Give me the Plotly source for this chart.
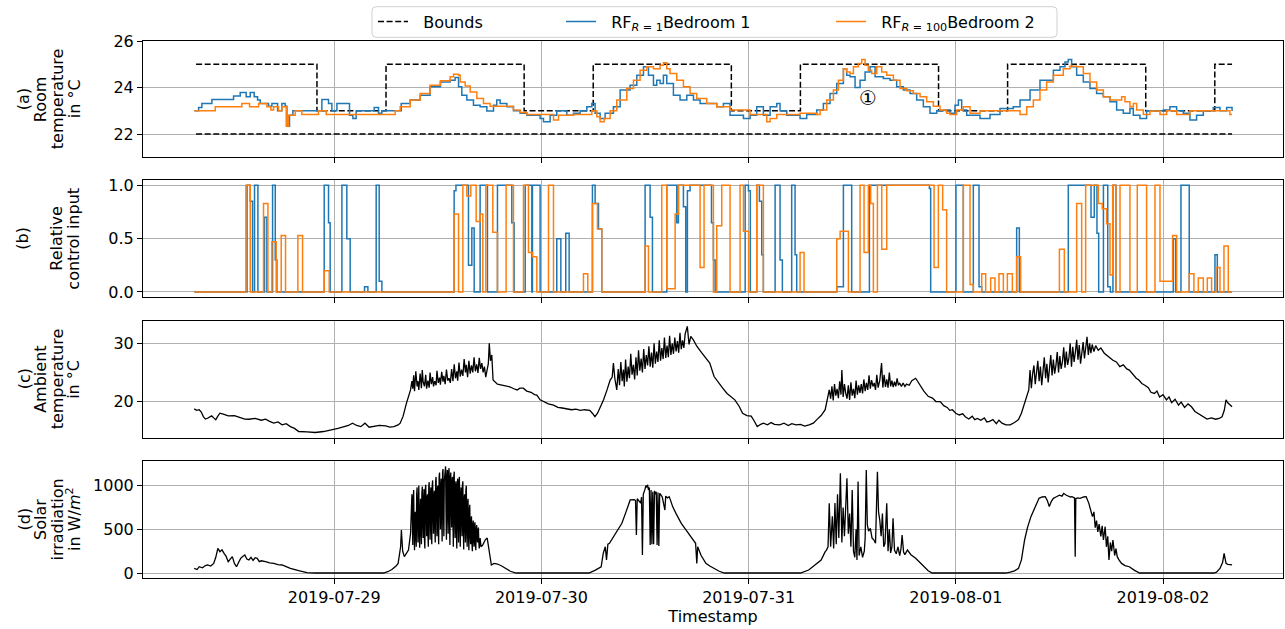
import numpy as np
import pandas as pd
import plotly.graph_objects as go

# ---------------- data (hours since 2019-07-28 00:00, value) ----------------
BOUND_UPPER = [(8, 25), (22, 23), (30, 25), (46, 23), (54, 25), (70, 23), (78, 25),
               (94, 23), (102, 25), (118, 23), (126, 25), (128, 25)]
BOUND_LOWER = [(8, 22), (128, 22)]

ROOM1 = [(7.8, 23.0), (8.29, 23.14), (8.67, 23.31), (9.83, 23.49), (12.34, 23.64), (13.11, 23.79),
         (13.8, 23.6), (14.27, 23.79), (14.73, 23.6), (15.12, 23.46), (15.43, 23.31), (16.39, 23.2),
         (16.78, 23.31), (17.44, 23.0), (17.94, 23.31), (18.32, 23.2), (18.52, 22.34), (18.82, 22.81),
         (19.21, 23.0), (22.57, 23.49), (23.34, 23.31), (23.73, 23.0), (24.31, 23.31), (25.77, 22.81),
         (26.16, 22.67), (26.54, 23.0), (28.63, 23.14), (29.13, 22.89), (29.52, 23.0), (31.76, 23.31),
         (32.8, 23.46), (33.96, 23.67), (35.1, 24.03), (36.3, 24.24), (37.43, 24.31), (38.0, 24.43),
         (38.4, 24.03), (38.78, 23.67), (39.36, 23.46), (40.13, 23.24), (40.9, 23.17), (41.68, 22.99),
         (42.45, 23.24), (42.83, 23.46), (43.22, 23.31), (44.0, 23.17), (44.76, 23.0), (45.54, 22.89),
         (46.31, 22.81), (47.85, 22.67), (48.24, 22.53), (49.01, 22.81), (49.78, 23.0), (50.94, 22.81),
         (51.71, 22.89), (52.48, 23.0), (53.26, 23.17), (53.84, 23.31), (54.22, 22.89), (54.8, 22.67),
         (55.38, 22.89), (56.34, 23.17), (57.12, 23.89), (58.27, 24.1), (59.05, 24.53), (59.82, 24.89),
         (60.4, 24.53), (60.98, 24.1), (61.36, 24.31), (61.75, 24.17), (62.13, 24.53), (62.52, 24.17),
         (63.29, 23.67), (64.06, 23.46), (64.84, 23.67), (65.61, 23.46), (66.38, 23.31), (68.31, 23.17),
         (69.08, 23.31), (69.85, 22.81), (71.4, 22.67), (72.17, 22.81), (72.94, 23.17), (73.71, 22.81),
         (74.49, 23.17), (75.26, 23.31), (75.64, 23.0), (76.42, 22.81), (77.96, 22.67), (78.73, 22.84),
         (79.89, 23.03), (80.66, 23.31), (81.43, 23.74), (82.21, 24.17), (82.98, 24.81), (83.36, 24.53),
         (83.75, 24.46), (84.33, 24.0), (84.91, 24.31), (85.49, 24.67), (86.07, 24.89), (86.65, 24.46),
         (87.61, 24.39), (88.38, 24.31), (89.15, 24.03), (89.93, 23.89), (90.7, 23.74), (91.47, 23.46),
         (92.24, 23.17), (93.01, 22.89), (93.79, 23.0), (94.56, 23.03), (95.33, 22.89), (95.91, 23.24),
         (96.3, 23.46), (96.68, 23.03), (97.26, 22.81), (98.8, 22.67), (99.96, 22.84), (101.12, 23.1),
         (102.66, 23.17), (103.44, 23.46), (104.6, 23.89), (105.75, 24.31), (107.3, 24.74), (108.07, 24.89),
         (108.65, 25.1), (109.03, 25.2), (109.42, 24.89), (110.0, 24.53), (110.77, 24.24), (111.54, 23.96),
         (112.31, 23.74), (113.09, 23.6), (113.86, 23.39), (114.63, 23.03), (115.4, 22.89), (116.17, 23.1),
         (116.56, 22.81), (117.33, 22.67), (118.1, 23.0), (120.03, 23.03), (120.8, 23.17), (121.58, 23.0),
         (122.35, 22.89), (123.12, 22.6), (123.89, 22.81), (124.67, 23.0), (125.82, 23.14), (126.6, 23.0),
         (127.37, 23.14), (128.0, 22.99)]

ROOM2 = [(7.8, 23.0), (10.22, 23.17), (13.3, 23.31), (14.19, 23.17), (15.24, 23.31), (16.2, 23.17),
         (16.66, 23.03), (16.97, 23.17), (17.55, 23.0), (17.94, 23.17), (18.44, 22.34), (18.71, 22.81),
         (19.48, 23.0), (20.25, 22.84), (22.18, 23.0), (23.07, 22.84), (31.06, 23.0), (31.64, 23.17),
         (32.8, 23.46), (33.96, 23.74), (35.1, 24.1), (36.3, 24.29), (37.43, 24.46), (37.82, 24.57),
         (38.4, 24.53), (38.59, 24.24), (39.17, 24.06), (39.75, 23.81), (40.52, 23.53), (41.29, 23.31),
         (42.06, 23.2), (44.76, 23.03), (45.54, 22.93), (46.31, 22.84), (49.4, 22.6), (49.98, 22.81),
         (51.71, 22.84), (53.84, 23.0), (54.42, 22.74), (54.8, 22.53), (55.26, 22.67), (55.96, 23.0),
         (56.73, 23.46), (57.89, 23.96), (58.66, 24.31), (59.43, 24.74), (60.2, 24.89), (60.98, 24.81),
         (61.75, 24.96), (62.13, 25.06), (62.52, 24.81), (62.9, 24.6), (63.68, 24.31), (64.45, 24.03),
         (65.22, 23.74), (65.99, 23.53), (67.15, 23.31), (68.31, 23.17), (69.85, 23.03), (72.17, 22.84),
         (74.1, 22.53), (74.49, 22.67), (75.26, 22.84), (77.96, 22.89), (79.89, 22.84), (80.28, 23.03),
         (81.05, 23.46), (81.82, 23.89), (82.4, 24.31), (82.98, 24.81), (83.36, 24.67), (83.75, 24.6),
         (84.14, 24.89), (84.72, 25.03), (85.1, 25.2), (85.49, 24.96), (85.87, 24.74), (86.26, 24.6),
         (86.84, 24.89), (87.42, 24.67), (88.0, 24.53), (88.77, 24.31), (89.54, 23.96), (90.31, 23.86),
         (91.08, 23.74), (91.86, 23.6), (92.63, 23.39), (93.4, 23.2), (94.17, 23.03), (94.94, 22.89),
         (95.33, 22.84), (96.1, 23.03), (96.87, 23.17), (97.65, 22.89), (98.8, 23.0), (103.44, 22.84),
         (104.21, 23.17), (104.98, 23.46), (105.75, 23.89), (106.52, 24.24), (107.3, 24.53), (108.45, 24.81),
         (109.23, 24.91), (110.0, 24.89), (110.77, 24.6), (111.54, 24.24), (112.31, 23.89), (113.09, 23.6),
         (113.86, 23.46), (115.21, 23.6), (115.6, 23.39), (116.17, 23.17), (116.56, 23.31), (116.95, 23.03),
         (117.72, 22.84), (118.49, 22.99), (119.65, 22.84), (120.42, 23.0), (121.58, 22.84), (123.12, 23.0),
         (127.75, 22.84), (128.0, 22.84)]

CTRL1 = [(7.8, 0), (13.9, 1.0), (14.27, 0.85), (14.54, 0), (14.77, 1.0), (15.16, 0), (15.93, 0.7),
         (16.2, 0), (16.86, 1.0), (17.17, 0.3), (17.36, 0), (22.84, 1.0), (23.34, 0.65), (23.53, 0),
         (24.89, 1.0), (25.46, 0.5), (25.85, 0), (27.51, 0.05), (27.9, 0), (28.86, 1.0), (29.21, 0.1),
         (29.52, 0), (37.89, 0.95), (38.1, 1.0), (39.55, 0.25), (39.94, 0.6), (40.21, 0), (40.9, 1.0),
         (41.75, 0), (42.91, 1.0), (44.57, 0.65), (44.84, 0), (46.12, 1.0), (46.89, 0), (46.96, 1.0),
         (47.85, 0), (49.78, 0.5), (50.25, 0), (50.82, 0.55), (51.21, 0), (53.91, 1.0), (54.22, 0.83),
         (54.61, 0.59), (54.99, 0), (60.01, 1.0), (60.59, 0.7), (60.86, 0), (62.52, 1.0), (63.68, 0.65),
         (63.87, 1.0), (64.45, 0.8), (64.72, 0), (64.91, 0.95), (65.22, 1.0), (67.7, 0.65), (67.92, 0.3),
         (68.12, 0), (71.6, 1.0), (71.98, 0.95), (72.2, 0), (72.94, 1.0), (73.25, 0.85), (73.52, 0.35),
         (73.71, 0), (75.07, 1.0), (75.64, 0.3), (75.91, 0), (76.99, 1.0), (77.38, 0.35), (77.57, 0),
         (82.21, 0.05), (82.98, 1.0), (83.94, 0), (85.99, 1.0), (92.94, 0.97), (93.09, 0), (96.02, 1.0),
         (96.87, 0), (98.03, 1.0), (98.69, 0.05), (99.0, 0), (103.05, 0.6), (103.36, 0), (109.03, 1.0),
         (111.66, 0.7), (112.04, 1.0), (112.35, 0.55), (112.55, 0), (113.1, 1.0), (113.6, 0.05),
         (113.9, 0), (114.2, 1.0), (114.55, 0), (121.19, 0.5), (121.46, 0), (122.08, 1.0), (123.04, 0),
         (126.02, 0.35), (126.29, 0), (128.0, 0)]

CTRL2 = [(7.8, 0), (13.77, 1.0), (14.27, 0), (15.81, 0.83), (16.32, 0), (16.78, 0.47), (17.28, 0),
         (17.86, 0.53), (18.36, 0), (19.79, 0.53), (20.33, 0), (22.84, 0.2), (23.42, 0), (37.89, 0.73),
         (38.4, 0), (38.9, 1.0), (39.36, 0.9), (39.82, 1.0), (40.44, 0.66), (40.9, 0.73), (41.21, 0),
         (41.56, 1.0), (42.37, 0.56), (42.91, 0), (43.91, 1.0), (44.76, 0), (45.92, 1.0), (46.5, 0.37),
         (46.96, 0.33), (47.47, 0), (48.82, 1.0), (49.4, 0), (52.87, 0.17), (53.37, 0), (53.91, 0.83),
         (54.49, 0.59), (54.99, 0), (60.01, 0.43), (60.4, 0), (61.94, 1.0), (62.52, 0.03), (63.49, 0.73),
         (63.87, 1.0), (66.38, 0.23), (66.84, 1.0), (67.92, 0), (68.31, 0.62), (68.89, 1.0), (69.85, 0),
         (71.01, 1.0), (71.4, 0.57), (72.0, 0), (72.94, 1.0), (73.71, 0), (77.96, 0.37), (78.42, 0),
         (82.21, 0.5), (82.6, 0.57), (83.56, 0), (84.91, 1.0), (85.37, 0.37), (85.87, 1.0), (86.14, 0.83),
         (86.45, 0), (86.92, 1.0), (87.42, 0.4), (88.0, 1.0), (93.48, 0.23), (93.98, 1.0), (94.48, 0.77),
         (94.94, 0), (96.87, 1.0), (97.65, 0.07), (98.03, 0), (99.0, 0.17), (99.46, 0), (100.04, 0.13),
         (100.54, 0), (101.0, 0.17), (101.51, 0), (101.97, 0.17), (102.55, 0), (103.05, 0.33),
         (103.51, 0), (108.0, 0.4), (108.57, 0), (110.0, 0.83), (110.58, 0), (111.04, 1.0),
         (112.51, 0.83), (112.97, 0.78), (113.47, 0.64), (113.86, 0.16), (114.17, 1.0), (114.55, 0),
         (115.02, 1.0), (116.17, 0), (117.02, 1.0), (118.1, 0), (119.07, 1.0), (119.65, 0.1),
         (121.11, 0.53), (121.58, 0), (123.04, 0.17), (123.58, 0), (124.09, 0.13), (124.67, 0),
         (125.13, 0.13), (125.63, 0), (126.13, 0.23), (126.6, 0), (127.06, 0.43), (127.56, 0), (128.0, 0)]

AMBIENT = [(7.78, 18.74), (8.07, 18.5), (8.36, 18.6), (8.6, 18.2), (8.84, 17.43), (9.08, 17.0),
           (9.32, 17.14), (9.56, 17.3), (9.8, 17.54), (10.04, 17.2), (10.28, 16.9), (10.52, 17.5),
           (10.76, 18.0), (11.24, 17.8), (11.72, 17.54), (12.44, 17.6), (13.16, 17.26), (13.64, 17.0),
           (14.12, 16.97), (14.84, 17.1), (15.56, 16.8), (16.04, 16.97), (16.52, 16.6), (17.0, 16.3),
           (17.48, 16.5), (17.96, 16.0), (18.44, 16.2), (18.92, 15.7), (19.4, 15.4), (19.88, 14.86),
           (20.84, 14.8), (21.8, 14.69), (22.76, 14.86), (23.24, 15.0), (23.72, 15.26), (24.44, 15.4),
           (25.16, 15.7), (25.64, 15.9), (26.12, 16.3), (26.6, 15.9), (27.08, 15.7), (27.56, 16.3),
           (28.04, 15.6), (28.52, 15.7), (29.24, 15.9), (29.96, 15.83), (30.44, 15.6), (30.92, 15.7),
           (31.4, 16.0), (31.64, 16.3), (31.98, 17.5), (32.36, 19.7), (32.6, 21.0), (32.84, 22.0),
           (33.0, 23.5), (33.1, 22.2), (33.2, 24.5), (33.3, 21.8), (33.45, 25.2), (33.6, 22.6),
           (33.7, 23.5), (33.8, 22.0), (33.95, 24.8), (34.1, 22.3), (34.2, 25.4), (34.3, 23.4),
           (34.45, 22.6), (34.6, 24.6), (34.7, 22.2), (34.85, 23.6), (35.0, 22.4), (35.1, 25.0),
           (35.25, 23.0), (35.4, 24.2), (35.5, 22.6), (35.65, 23.5), (35.8, 22.8), (35.9, 25.3),
           (36.05, 23.2), (36.2, 24.1), (36.3, 22.9), (36.45, 25.1), (36.6, 23.4), (36.7, 24.4),
           (36.85, 23.0), (37.0, 25.5), (37.15, 23.6), (37.3, 24.0), (37.45, 23.2), (37.6, 25.6),
           (37.75, 23.5), (37.9, 26.4), (38.05, 24.0), (38.2, 25.2), (38.3, 23.6), (38.45, 26.7),
           (38.6, 24.3), (38.75, 25.5), (38.9, 24.4), (39.05, 27.3), (39.2, 25.0), (39.3, 26.3),
           (39.45, 24.2), (39.6, 27.0), (39.75, 24.8), (39.9, 26.2), (40.05, 25.0), (40.2, 27.6),
           (40.35, 25.2), (40.5, 26.4), (40.65, 24.9), (40.8, 27.5), (40.95, 25.6), (41.1, 26.6),
           (41.25, 25.0), (41.4, 26.0), (41.55, 24.2), (41.7, 25.5), (41.85, 26.5), (41.96, 30.0),
           (42.1, 27.0), (42.25, 28.0), (42.4, 23.7), (42.9, 23.0), (43.4, 22.8), (43.9, 22.6),
           (44.4, 22.5), (44.8, 22.2), (45.2, 22.0), (45.5, 22.3), (45.9, 22.3), (46.3, 21.8),
           (46.8, 21.6), (47.2, 21.2), (47.47, 21.1), (47.85, 20.3), (48.3, 20.0), (48.8, 19.6),
           (49.4, 19.4), (49.9, 19.0), (50.4, 18.9), (50.94, 18.7), (51.5, 18.6), (52.0, 18.7),
           (52.5, 18.5), (53.0, 18.6), (53.6, 18.5), (53.9, 18.0), (54.2, 17.4), (54.5, 18.0),
           (54.8, 18.9), (55.2, 20.3), (55.6, 22.0), (55.96, 23.7), (56.2, 24.2), (56.34, 26.6),
           (56.5, 24.0), (56.73, 22.0), (56.9, 25.6), (57.05, 22.8), (57.2, 26.8), (57.35, 23.5),
           (57.5, 25.5), (57.6, 22.6), (57.75, 27.2), (57.9, 23.4), (58.05, 26.0), (58.2, 24.0),
           (58.35, 28.2), (58.5, 24.6), (58.65, 26.3), (58.8, 23.8), (58.95, 27.6), (59.1, 24.5),
           (59.25, 28.8), (59.4, 25.3), (59.55, 27.4), (59.7, 25.0), (59.85, 29.0), (60.0, 25.6),
           (60.15, 28.0), (60.3, 26.2), (60.45, 29.5), (60.6, 26.0), (60.75, 28.4), (60.9, 25.8),
           (61.05, 30.0), (61.2, 26.5), (61.35, 28.6), (61.5, 26.8), (61.65, 30.5), (61.8, 27.0),
           (61.95, 29.2), (62.1, 27.3), (62.25, 31.0), (62.4, 27.5), (62.55, 29.6), (62.7, 27.6),
           (62.85, 31.3), (63.0, 28.0), (63.15, 30.0), (63.3, 28.2), (63.45, 31.0), (63.6, 28.6),
           (63.75, 30.4), (63.9, 28.4), (64.05, 31.8), (64.2, 29.0), (64.35, 30.5), (64.5, 29.2),
           (64.65, 31.6), (64.9, 32.9), (65.1, 29.8), (65.3, 31.2), (65.6, 30.6), (66.0, 29.5),
           (66.6, 28.3), (67.0, 27.6), (67.5, 26.6), (68.0, 24.3), (68.5, 23.2), (69.0, 22.3),
           (69.5, 21.4), (70.0, 20.8), (70.4, 20.3), (70.9, 19.2), (71.3, 18.0), (71.8, 17.6),
           (72.3, 17.5), (72.6, 16.8), (73.0, 15.7), (73.4, 16.1), (73.7, 16.3), (74.2, 16.0),
           (74.6, 16.4), (75.0, 16.1), (75.6, 16.0), (76.1, 16.3), (76.6, 15.9), (77.0, 16.2),
           (77.5, 16.0), (78.0, 16.1), (78.5, 15.8), (79.0, 16.0), (79.5, 16.3), (79.9, 16.9),
           (80.4, 17.6), (80.87, 18.6), (81.1, 20.0), (81.34, 22.0), (81.5, 20.5), (81.65, 22.6),
           (81.8, 20.2), (81.95, 23.0), (82.1, 21.0), (82.25, 22.2), (82.4, 20.6), (82.55, 23.5),
           (82.7, 21.2), (82.8, 25.4), (82.95, 20.8), (83.1, 23.0), (83.25, 21.4), (83.4, 20.5),
           (83.55, 22.8), (83.7, 20.3), (83.85, 23.3), (84.0, 21.0), (84.15, 22.2), (84.3, 20.6),
           (84.45, 23.6), (84.6, 21.2), (84.75, 22.8), (84.9, 21.5), (85.05, 23.0), (85.2, 21.4),
           (85.35, 23.8), (85.5, 21.8), (85.65, 23.2), (85.8, 22.0), (85.95, 24.5), (86.1, 22.2),
           (86.25, 23.7), (86.4, 22.6), (86.55, 23.2), (86.7, 22.0), (86.85, 24.6), (87.0, 22.4),
           (87.2, 23.7), (87.4, 26.6), (87.55, 22.4), (87.7, 24.6), (87.85, 22.5), (88.0, 23.8),
           (88.15, 22.4), (88.3, 25.0), (88.45, 22.6), (88.6, 23.6), (88.75, 22.5), (88.9, 23.4),
           (89.05, 22.6), (89.2, 24.0), (89.35, 22.8), (89.5, 23.2), (89.7, 22.6), (89.9, 23.2),
           (90.1, 22.6), (90.3, 23.0), (90.6, 22.8), (90.9, 23.6), (91.35, 24.0), (91.6, 23.4),
           (91.8, 23.0), (92.3, 21.8), (92.8, 20.9), (93.3, 20.6), (93.7, 20.0), (94.2, 20.0),
           (94.6, 19.3), (95.0, 19.0), (95.3, 18.5), (95.6, 18.6), (96.0, 18.0), (96.4, 17.7),
           (96.8, 17.9), (97.1, 17.4), (97.5, 17.0), (97.9, 17.5), (98.2, 16.9), (98.5, 17.1),
           (98.9, 16.8), (99.3, 17.2), (99.6, 16.5), (99.9, 16.6), (100.3, 16.9), (100.7, 16.2),
           (101.0, 16.8), (101.35, 16.3), (101.8, 16.0), (102.3, 16.0), (102.8, 16.4), (103.26, 16.9),
           (103.6, 18.0), (103.97, 19.7), (104.2, 20.6), (104.45, 22.0), (104.6, 25.4), (104.75, 22.3),
           (104.9, 24.8), (105.05, 26.2), (105.2, 23.0), (105.35, 25.6), (105.5, 27.0), (105.65, 23.5),
           (105.8, 26.0), (105.95, 22.8), (106.1, 25.0), (106.25, 27.6), (106.4, 24.0), (106.55, 26.5),
           (106.7, 23.3), (106.85, 25.4), (107.0, 28.0), (107.15, 24.5), (107.3, 27.2), (107.45, 24.8),
           (107.6, 26.2), (107.75, 28.5), (107.9, 25.0), (108.05, 27.8), (108.2, 25.6), (108.35, 26.8),
           (108.5, 29.3), (108.65, 25.8), (108.8, 28.6), (108.95, 26.3), (109.1, 27.5), (109.25, 30.0),
           (109.4, 26.0), (109.55, 29.4), (109.7, 26.8), (109.85, 28.5), (110.0, 30.6), (110.15, 27.2),
           (110.3, 29.7), (110.45, 26.5), (110.6, 28.4), (110.75, 30.2), (110.9, 27.4), (111.05, 29.0),
           (111.2, 31.1), (111.35, 28.0), (111.5, 30.0), (111.65, 28.3), (111.8, 29.8), (112.0, 28.6),
           (112.2, 29.6), (112.5, 28.8), (112.8, 29.2), (113.2, 28.3), (113.6, 27.8), (114.2, 27.1),
           (114.6, 26.8), (115.0, 26.0), (115.4, 26.3), (115.8, 25.6), (116.1, 25.4), (116.5, 24.6),
           (116.9, 24.0), (117.2, 23.7), (117.55, 23.1), (117.9, 22.8), (118.3, 22.4), (118.6, 21.6),
           (119.0, 21.4), (119.3, 21.8), (119.6, 20.8), (120.0, 21.2), (120.4, 20.3), (120.7, 20.8),
           (121.0, 19.8), (121.4, 20.4), (121.8, 19.4), (122.1, 19.9), (122.5, 19.0), (122.9, 19.6),
           (123.3, 19.1), (123.7, 18.3), (124.1, 17.9), (124.7, 17.4), (125.1, 17.0), (125.6, 17.2),
           (126.1, 16.97), (126.5, 17.1), (126.84, 17.4), (127.1, 18.5), (127.3, 20.3), (127.5, 19.8),
           (127.8, 19.4), (128.0, 19.1)]

SOLAR = [(7.78, 53), (8.12, 40), (8.36, 72), (8.74, 60), (9.08, 85), (9.32, 92), (9.7, 80), (10.04, 110),
         (10.28, 180), (10.52, 282), (10.76, 244), (11.0, 265), (11.24, 225), (11.48, 190), (11.72, 130),
         (11.96, 160), (12.2, 187), (12.44, 110), (12.68, 72), (12.92, 120), (13.16, 168), (13.4, 190),
         (13.64, 206), (13.88, 160), (14.12, 149), (14.36, 180), (14.6, 145), (14.84, 175), (15.08, 168),
         (15.32, 130), (15.56, 140), (16.04, 130), (16.52, 115), (17.0, 110), (17.48, 95), (17.96, 92),
         (18.44, 70), (18.92, 53), (19.88, 27), (20.84, 4), (21.8, 0), (29.72, 0), (30.2, 15), (30.68, 40),
         (31.16, 80), (31.4, 110), (31.69, 300), (31.78, 492), (31.93, 250), (32.12, 187), (32.6, 263),
         (32.84, 450),
         (33.0, 900), (33.05, 400), (33.1, 320), (33.15, 850), (33.2, 950), (33.25, 500), (33.3, 260),
         (33.35, 650), (33.4, 700), (33.45, 420), (33.5, 300), (33.55, 900), (33.6, 980), (33.65, 600),
         (33.7, 350), (33.75, 800), (33.8, 1000), (33.85, 450), (33.9, 290), (33.95, 700), (34.0, 850),
         (34.05, 500), (34.1, 330), (34.15, 900), (34.2, 990), (34.25, 600), (34.3, 400), (34.35, 850),
         (34.4, 960), (34.45, 380), (34.5, 280), (34.55, 950), (34.6, 1010), (34.65, 700), (34.7, 420),
         (34.75, 850), (34.8, 900), (34.85, 450), (34.9, 300), (34.95, 980), (35.0, 1040), (35.05, 650),
         (35.1, 380), (35.15, 900), (35.2, 980), (35.25, 500), (35.3, 330), (35.35, 1000), (35.4, 1060),
         (35.45, 700), (35.5, 450), (35.55, 880), (35.6, 940), (35.65, 550), (35.7, 350), (35.75, 1050),
         (35.8, 1100), (35.85, 700), (35.9, 420), (35.95, 950), (36.0, 1000), (36.05, 500), (36.1, 330),
         (36.15, 1100), (36.2, 1150), (36.25, 800), (36.3, 500), (36.35, 1000), (36.4, 1080), (36.45, 600),
         (36.5, 360), (36.55, 1150), (36.6, 1190), (36.65, 750), (36.7, 420), (36.75, 1050), (36.8, 1130),
         (36.9, 1220), (36.95, 700), (37.0, 380), (37.05, 1100), (37.1, 1180), (37.15, 700), (37.2, 450),
         (37.25, 1150), (37.3, 1200), (37.35, 650), (37.4, 320), (37.45, 1100), (37.5, 1150), (37.55, 800),
         (37.6, 520), (37.65, 1050), (37.7, 1100), (37.75, 600), (37.8, 300), (37.85, 1100), (37.9, 1160),
         (37.95, 650), (38.0, 400), (38.05, 1000), (38.1, 1050), (38.15, 500), (38.2, 280), (38.25, 1000),
         (38.3, 1080), (38.35, 600), (38.4, 350), (38.45, 1050), (38.5, 1100), (38.55, 550), (38.6, 300),
         (38.65, 900), (38.7, 980), (38.75, 650), (38.8, 420), (38.85, 1000), (38.9, 1050), (38.95, 500),
         (39.0, 270), (39.05, 850), (39.1, 900), (39.15, 550), (39.2, 350), (39.25, 950), (39.3, 1000),
         (39.35, 500), (39.4, 300), (39.45, 800), (39.5, 850), (39.55, 450), (39.6, 260), (39.65, 700),
         (39.7, 780), (39.75, 450), (39.8, 330), (39.85, 600), (39.9, 650), (39.95, 350), (40.0, 250),
         (40.05, 550), (40.1, 600), (40.15, 400), (40.2, 300), (40.25, 550), (40.3, 580), (40.35, 350),
         (40.4, 260), (40.45, 500), (40.5, 550), (40.55, 400), (40.6, 350), (40.65, 480), (40.7, 520),
         (40.75, 350), (40.8, 280), (40.9, 400), (41.0, 300), (41.2, 320), (41.5, 380), (41.72, 400),
         (41.9, 300), (42.2, 92), (42.5, 110), (42.92, 103), (43.4, 80), (43.88, 53), (44.4, 20), (45.08, 0),
         (53.5, 0), (54.2, 30), (54.92, 72), (55.16, 225), (55.4, 300), (55.54, 150), (55.7, 330),
         (55.88, 340), (56.6, 450), (57.32, 569), (57.8, 700), (58.28, 836), (58.76, 840), (58.9, 830),
         (59.0, 435), (59.1, 850), (59.5, 800), (59.6, 870), (59.7, 206), (59.8, 900), (60.0, 960),
         (60.1, 1000), (60.2, 980), (60.3, 1010), (60.4, 950), (60.5, 980), (60.6, 320), (60.7, 950),
         (60.8, 330), (60.9, 930), (61.0, 330), (61.1, 940), (61.2, 900), (61.3, 931), (61.4, 320),
         (61.5, 920), (61.6, 310), (61.7, 912), (61.8, 900), (62.0, 870), (62.3, 721), (62.4, 880),
         (62.6, 860), (62.8, 874), (63.0, 820), (63.2, 760), (63.6, 680), (64.2, 569), (64.7, 500),
         (65.15, 435), (65.5, 380), (65.86, 340), (66.0, 110), (66.1, 300), (66.5, 200), (67.05, 110),
         (67.5, 80), (68.0, 53), (68.6, 20), (69.2, 0),
         (78.0, 0), (78.96, 34), (79.7, 90), (80.4, 149), (80.87, 244), (81.0, 260), (81.2, 300),
         (81.34, 798), (81.5, 300), (81.7, 650), (81.85, 280), (82.0, 800), (82.15, 330), (82.3, 900),
         (82.45, 400), (82.63, 1141), (82.8, 350), (82.95, 750), (83.1, 420), (83.25, 900), (83.39, 1084),
         (83.55, 450), (83.7, 680), (83.85, 300), (84.0, 950), (84.15, 250), (84.3, 180), (84.45, 500),
         (84.55, 150), (84.68, 1046), (84.8, 200), (85.0, 300), (85.2, 180), (85.4, 250), (85.5, 400),
         (85.63, 1179), (85.75, 550), (85.9, 480), (86.1, 511), (86.3, 400), (86.5, 380), (86.7, 340),
         (86.92, 1160), (87.05, 700), (87.2, 600), (87.35, 420), (87.5, 680), (87.65, 300), (87.8, 340),
         (88.0, 798), (88.15, 250), (88.3, 500), (88.45, 230), (88.6, 300), (88.73, 626), (88.9, 260),
         (89.1, 220), (89.3, 300), (89.5, 200), (89.65, 280), (89.78, 435), (89.95, 240), (90.1, 210),
         (90.4, 263), (90.8, 210), (91.35, 168), (91.8, 120), (92.3, 72), (92.8, 25), (93.25, 0),
         (101.8, 0), (102.3, 10), (102.8, 25), (103.26, 53), (103.6, 150), (103.97, 378), (104.3, 520),
         (104.7, 645), (105.2, 760), (105.64, 855), (106.0, 870), (106.36, 874), (106.6, 830),
         (106.83, 760), (107.07, 820), (107.3, 855), (107.6, 870), (108.0, 890), (108.3, 880),
         (108.5, 912), (108.8, 890), (109.0, 880), (109.3, 870), (109.45, 874), (109.75, 860),
         (109.83, 187), (109.9, 850), (110.1, 860), (110.4, 855), (110.8, 870), (111.1, 874), (111.4, 800),
         (111.83, 645), (112.0, 700), (112.15, 520), (112.3, 600), (112.45, 470), (112.6, 560),
         (112.8, 420), (112.95, 540), (113.1, 380), (113.3, 530), (113.45, 300), (113.6, 420),
         (113.74, 149), (113.9, 350), (114.05, 250), (114.2, 378), (114.4, 200), (114.55, 280),
         (114.7, 187), (114.9, 150), (115.2, 110), (115.6, 85), (116.1, 72), (116.7, 30), (117.3, 0),
         (125.9, 0), (126.2, 10), (126.6, 53), (126.9, 120), (127.08, 225), (127.2, 130), (127.3, 110),
         (127.5, 100), (127.7, 95), (128.0, 92)]

DATE_TICKS = ["2019-07-29", "2019-07-30", "2019-07-31", "2019-08-01", "2019-08-02"]
MARKER_TEXT = "①"
MARKER_POS = (85.84, 23.53)

# ---------------- helpers ----------------
BASE = pd.Timestamp("2019-07-28 00:00")


def ts(hours):
    return BASE + pd.to_timedelta(np.asarray(hours, dtype=float), unit="h")


def split(series):
    h = [p[0] for p in series]
    v = [p[1] for p in series]
    return ts(h), v


BLUE = "#1f77b4"
ORANGE = "#ff7f0e"
FONT = "DejaVu Sans"
FS = 16

fig = go.Figure()

# (a) room temperatures
x, y = split(BOUND_UPPER)
fig.add_trace(go.Scatter(x=x, y=y, mode="lines", line=dict(color="black", width=1.5, dash="6px,2.6px", shape="hv"),
                         name="\u00a0\u00a0Bounds", legend="legend", xaxis="x", yaxis="y"))
x, y = split(BOUND_LOWER)
fig.add_trace(go.Scatter(x=x, y=y, mode="lines", line=dict(color="black", width=1.5, dash="6px,2.6px"),
                         showlegend=False, xaxis="x", yaxis="y"))
x, y = split(ROOM1)
fig.add_trace(go.Scatter(x=x, y=y, mode="lines", line=dict(color=BLUE, width=1.5, shape="hv"),
                         name="\u00a0\u00a0RF<sub><i>R</i> = 1</sub>Bedroom 1", legend="legend2",
                         xaxis="x", yaxis="y"))
x, y = split(ROOM2)
fig.add_trace(go.Scatter(x=x, y=y, mode="lines", line=dict(color=ORANGE, width=1.5, shape="hv"),
                         name="\u00a0\u00a0RF<sub><i>R</i> = 100</sub>Bedroom 2", legend="legend3",
                         xaxis="x", yaxis="y"))

# (b) control input
x, y = split(CTRL1)
fig.add_trace(go.Scatter(x=x, y=y, mode="lines", line=dict(color=BLUE, width=1.5, shape="hv"),
                         showlegend=False, xaxis="x2", yaxis="y2"))
x, y = split(CTRL2)
fig.add_trace(go.Scatter(x=x, y=y, mode="lines", line=dict(color=ORANGE, width=1.5, shape="hv"),
                         showlegend=False, xaxis="x2", yaxis="y2"))

# (c) ambient temperature
x, y = split(AMBIENT)
fig.add_trace(go.Scatter(x=x, y=y, mode="lines", line=dict(color="black", width=1.3),
                         showlegend=False, xaxis="x3", yaxis="y3"))

# (d) solar irradiation
x, y = split(SOLAR)
fig.add_trace(go.Scatter(x=x, y=y, mode="lines", line=dict(color="black", width=1.3),
                         showlegend=False, xaxis="x4", yaxis="y4"))

# ---------------- layout ----------------
W, H = 1285, 629
ML, MR, MT, MB = 143, 2, 41, 51
PH = H - MT - MB
PW = W - ML - MR


def dom(top_px, bot_px):
    lo = max(0.0, (H - MB - bot_px) / PH)
    hi = min(1.0, (H - MB - top_px) / PH)
    return [lo, hi]


x_range = [str(ts(1.85)), str(ts(133.9))]
common_x = dict(type="date", range=x_range, tickvals=DATE_TICKS, ticktext=DATE_TICKS,
                showgrid=True, gridcolor="#b0b0b0", gridwidth=0.8, showline=True, linecolor="black",
                linewidth=1, mirror=True, ticks="outside", ticklen=5, tickcolor="black", zeroline=False,
                tickfont=dict(family=FONT, size=FS, color="black"), automargin=False)
common_y = dict(showgrid=True, gridcolor="#b0b0b0", gridwidth=0.8, showline=True, linecolor="black",
                linewidth=1, mirror=True, ticks="outside", ticklen=5, tickcolor="black", zeroline=False,
                tickfont=dict(family=FONT, size=FS, color="black"), automargin=False)

fig.update_layout(
    width=W, height=H, margin=dict(l=ML, r=MR, t=MT, b=MB, autoexpand=False),
    paper_bgcolor="white", plot_bgcolor="white",
    font=dict(family=FONT, size=FS, color="black"),
    xaxis=dict(common_x, anchor="y", showticklabels=False),
    xaxis2=dict(common_x, anchor="y2", matches="x", showticklabels=False),
    xaxis3=dict(common_x, anchor="y3", matches="x", showticklabels=False),
    xaxis4=dict(common_x, anchor="y4", matches="x", showticklabels=True,
                title=dict(text="Timestamp", font=dict(family=FONT, size=FS), standoff=0)),
    yaxis=dict(common_y, domain=dom(40.7, 157.3), range=[21, 26], tickvals=[22, 24, 26], anchor="x"),
    yaxis2=dict(common_y, domain=dom(180, 297.3), range=[-0.05, 1.05], tickvals=[0, 0.5, 1.0],
                ticktext=["0.0", "0.5", "1.0"], anchor="x2"),
    yaxis3=dict(common_y, domain=dom(321, 437.7), range=[13.8, 33.83], tickvals=[20, 30], anchor="x3"),
    yaxis4=dict(common_y, domain=dom(461, 578), range=[-57, 1282], tickvals=[0, 500, 1000], anchor="x4"),
    showlegend=True,
)

leg_common = dict(orientation="h", yanchor="middle", y=(H - MB - 21.7) / PH, xanchor="left",
                  bgcolor="rgba(0,0,0,0)", borderwidth=0, font=dict(family=FONT, size=FS, color="black"))
fig.update_layout(
    legend=dict(leg_common, x=(373 - ML) / PW),
    legend2=dict(leg_common, x=(561 - ML) / PW),
    legend3=dict(leg_common, x=(831 - ML) / PW),
)

# legend frame (rounded rectangle)
lx0, lx1 = (372 - ML) / PW, (1057 - ML) / PW
ly0, ly1 = (H - MB - 37.3) / PH, (H - MB - 6.7) / PH
rx, ry = 4 / PW, 4 / PH
path = (f"M {lx0+rx},{ly0} L {lx1-rx},{ly0} Q {lx1},{ly0} {lx1},{ly0+ry} "
        f"L {lx1},{ly1-ry} Q {lx1},{ly1} {lx1-rx},{ly1} L {lx0+rx},{ly1} Q {lx0},{ly1} {lx0},{ly1-ry} "
        f"L {lx0},{ly0+ry} Q {lx0},{ly0} {lx0+rx},{ly0} Z")
fig.add_shape(type="path", path=path, xref="paper", yref="paper",
              line=dict(color="#d0d0d0", width=1), fillcolor="rgba(255,255,255,0.8)", layer="below")

# y-axis labels (one annotation per line, centres in figure pixels)
labels = [
    ("y domain", [("(a)", 23), ("Room", 40), ("temperature", 57), ("in °C", 74)]),
    ("y2 domain", [("(b)", 23), ("Relative", 57), ("control input", 74)]),
    ("y3 domain", [("(c)", 24), ("Ambient", 40.5), ("temperature", 57), ("in °C", 73.5)]),
    ("y4 domain", [("(d)", 24), ("Solar", 40.5), ("irradiation", 57), ("in W/<i>m</i><sup>2</sup>", 73.5)]),
]
for yref, lines in labels:
    for txt, cx in lines:
        fig.add_annotation(text=txt, xref="paper", x=(cx - ML) / PW, yref=yref, y=0.5,
                           xanchor="center", yanchor="middle", textangle=-90, showarrow=False,
                           font=dict(family=FONT, size=FS, color="black"))

# marker annotation in panel (a)
fig.add_annotation(text=MARKER_TEXT, x=ts([MARKER_POS[0]])[0], y=MARKER_POS[1], xref="x", yref="y",
                   showarrow=False, font=dict(family=FONT, size=20, color="black"))

fig.write_html("out.html", config={"displayModeBar": False},
               post_script="document.body.style.margin='0';document.body.style.overflow='hidden';")
